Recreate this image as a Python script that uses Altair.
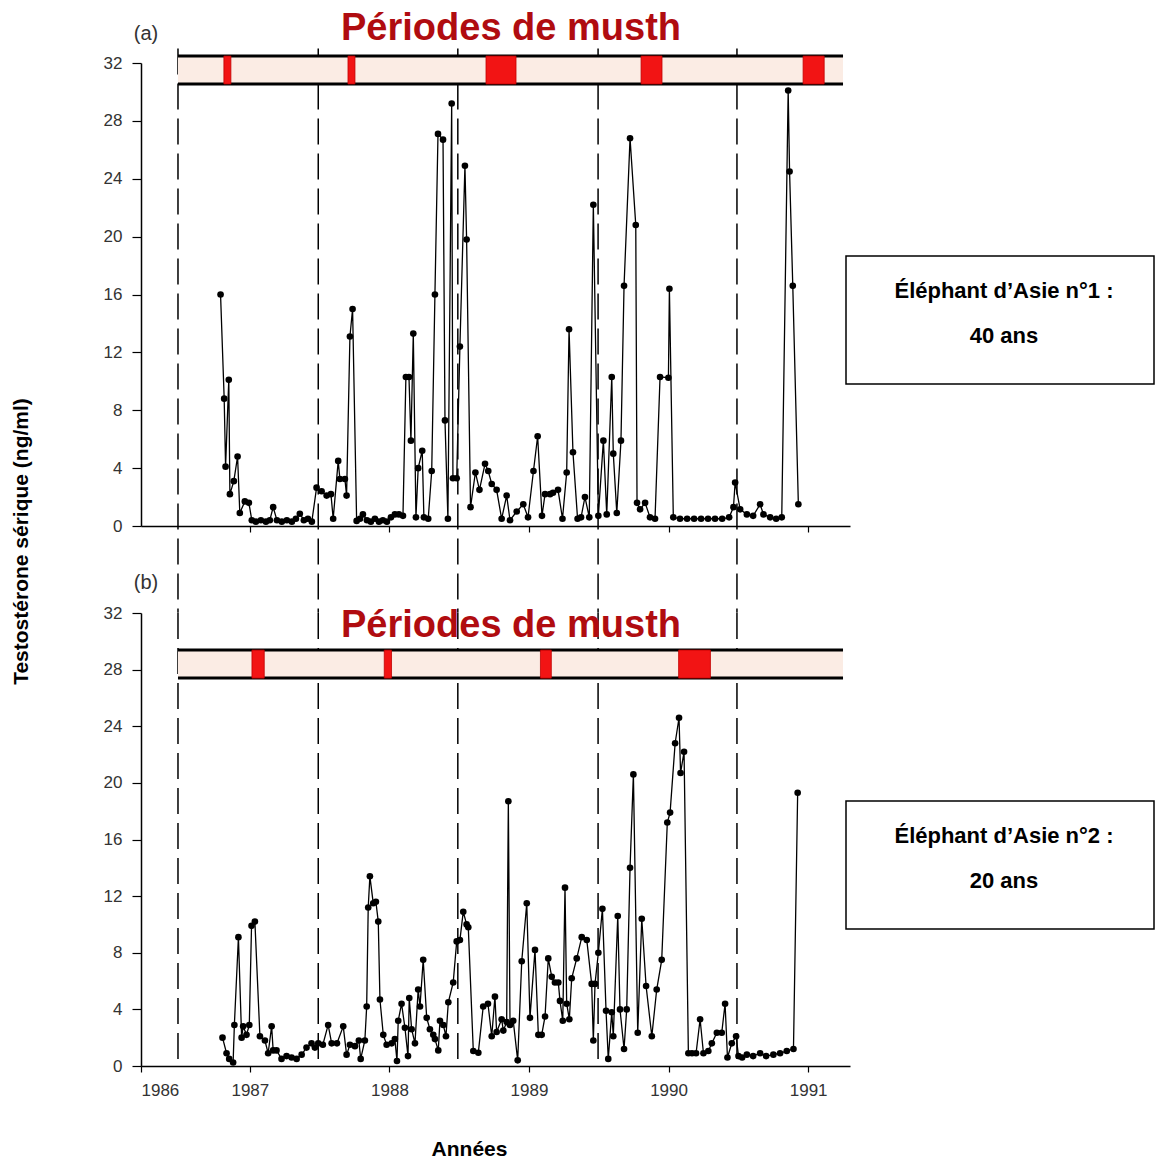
import altair as alt
import pandas as pd

FONT = "Liberation Sans"

# ---------------- data ----------------
years_a = [1986.790, 1986.816, 1986.826, 1986.849, 1986.857, 1986.885, 1986.912, 1986.928, 1986.964, 1986.993,
           1987.014, 1987.043, 1987.079, 1987.115, 1987.143, 1987.167, 1987.194, 1987.229, 1987.265, 1987.301,
           1987.330, 1987.358, 1987.387, 1987.416, 1987.444, 1987.478, 1987.514, 1987.550, 1987.581, 1987.597,
           1987.633, 1987.645, 1987.681, 1987.693, 1987.717, 1987.736, 1987.765, 1987.789, 1987.810, 1987.839,
           1987.867, 1987.896, 1987.925, 1987.953, 1987.982, 1988.011, 1988.039, 1988.068, 1988.097, 1988.118,
           1988.140, 1988.154, 1988.171, 1988.190, 1988.206, 1988.235, 1988.247, 1988.278, 1988.303, 1988.326,
           1988.348, 1988.384, 1988.398, 1988.419, 1988.446, 1988.455, 1988.482, 1988.505, 1988.541, 1988.553,
           1988.581, 1988.616, 1988.645, 1988.685, 1988.708, 1988.733, 1988.768, 1988.804, 1988.840, 1988.864,
           1988.912, 1988.959, 1988.993, 1989.032, 1989.062, 1989.093, 1989.115, 1989.151, 1989.172, 1989.208,
           1989.240, 1989.270, 1989.287, 1989.315, 1989.348, 1989.373, 1989.401, 1989.432, 1989.461, 1989.497,
           1989.533, 1989.557, 1989.593, 1989.604, 1989.629, 1989.659, 1989.681, 1989.724, 1989.765, 1989.774,
           1989.796, 1989.832, 1989.867, 1989.903, 1989.939, 1989.999, 1990.006, 1990.034, 1990.082, 1990.133,
           1990.183, 1990.233, 1990.283, 1990.333, 1990.384, 1990.434, 1990.465, 1990.477, 1990.513, 1990.561,
           1990.606, 1990.656, 1990.680, 1990.728, 1990.771, 1990.811, 1990.857, 1990.867, 1990.890, 1990.930]
values_a = [16.0, 8.8, 4.1, 10.1, 2.2, 3.1, 4.8, 0.9, 1.7, 1.6,
            0.4, 0.3, 0.4, 0.3, 0.4, 1.3, 0.4, 0.3, 0.4, 0.3,
            0.5, 0.85, 0.4, 0.5, 0.3, 2.65, 2.4, 2.1, 2.2, 0.5,
            4.5, 3.25, 3.25, 2.1, 13.1, 15.0, 0.35, 0.5, 0.8, 0.4,
            0.3, 0.5, 0.3, 0.4, 0.3, 0.6, 0.8, 0.8, 0.7, 10.3,
            10.3, 5.9, 13.3, 0.6, 4.0, 5.2, 0.6, 0.5, 3.8, 16.0,
            27.1, 26.7, 7.3, 0.5, 29.2, 3.3, 3.3, 12.4, 24.9, 19.8,
            1.3, 3.7, 2.5, 4.3, 3.8, 2.9, 2.5, 0.5, 2.1, 0.4,
            1.0, 1.5, 0.6, 3.8, 6.2, 0.7, 2.2, 2.2, 2.3, 2.5,
            0.5, 3.7, 13.6, 5.1, 0.5, 0.6, 2.0, 0.6, 22.2, 0.7,
            5.9, 0.8, 10.3, 5.0, 0.9, 5.9, 16.6, 26.8, 20.8, 1.6,
            1.15, 1.6, 0.6, 0.5, 10.3, 10.25, 16.4, 0.6, 0.5, 0.5,
            0.5, 0.5, 0.5, 0.5, 0.5, 0.6, 1.3, 3.0, 1.15, 0.8,
            0.7, 1.5, 0.8, 0.6, 0.5, 0.6, 30.1, 24.5, 16.6, 1.5]

years_b = [1986.804, 1986.833, 1986.852, 1986.880, 1986.889, 1986.918, 1986.941, 1986.952, 1986.976, 1986.996,
           1987.012, 1987.036, 1987.072, 1987.108, 1987.131, 1987.156, 1987.167, 1987.191, 1987.227, 1987.263,
           1987.299, 1987.335, 1987.371, 1987.406, 1987.442, 1987.466, 1987.490, 1987.523, 1987.561, 1987.586,
           1987.624, 1987.669, 1987.693, 1987.717, 1987.753, 1987.781, 1987.794, 1987.824, 1987.837, 1987.848,
           1987.860, 1987.884, 1987.903, 1987.920, 1987.932, 1987.956, 1987.980, 1988.016, 1988.039, 1988.054,
           1988.063, 1988.087, 1988.111, 1988.133, 1988.142, 1988.159, 1988.183, 1988.206, 1988.219, 1988.242,
           1988.267, 1988.290, 1988.314, 1988.326, 1988.350, 1988.362, 1988.386, 1988.405, 1988.422, 1988.457,
           1988.482, 1988.505, 1988.529, 1988.553, 1988.565, 1988.601, 1988.637, 1988.672, 1988.706, 1988.733,
           1988.756, 1988.768, 1988.804, 1988.816, 1988.840, 1988.852, 1988.864, 1988.887, 1988.919, 1988.948,
           1988.984, 1989.007, 1989.043, 1989.067, 1989.091, 1989.115, 1989.138, 1989.163, 1989.186, 1989.210,
           1989.222, 1989.242, 1989.258, 1989.270, 1989.289, 1989.306, 1989.342, 1989.378, 1989.414, 1989.449,
           1989.461, 1989.473, 1989.497, 1989.526, 1989.552, 1989.568, 1989.593, 1989.604, 1989.636, 1989.652,
           1989.681, 1989.700, 1989.724, 1989.748, 1989.779, 1989.808, 1989.839, 1989.880, 1989.915, 1989.951,
           1989.991, 1990.011, 1990.047, 1990.075, 1990.086, 1990.111, 1990.142, 1990.168, 1990.197, 1990.226,
           1990.250, 1990.285, 1990.310, 1990.346, 1990.381, 1990.405, 1990.422, 1990.453, 1990.484, 1990.501,
           1990.527, 1990.561, 1990.606, 1990.656, 1990.699, 1990.751, 1990.799, 1990.847, 1990.895, 1990.925]
values_b = [2.0, 0.9, 0.5, 0.25, 2.9, 9.1, 2.0, 2.8, 2.2, 2.9,
            9.9, 10.2, 2.1, 1.8, 0.9, 2.8, 1.1, 1.1, 0.5, 0.7,
            0.6, 0.5, 0.8, 1.3, 1.6, 1.3, 1.6, 1.5, 2.9, 1.6,
            1.6, 2.8, 0.8, 1.5, 1.4, 1.8, 0.5, 1.8, 4.2, 11.2,
            13.4, 11.5, 11.6, 10.2, 4.7, 2.2, 1.5, 1.6, 1.9, 0.35,
            3.2, 4.4, 2.7, 0.7, 4.8, 2.6, 1.6, 5.4, 4.2, 7.5,
            3.4, 2.6, 2.2, 1.9, 1.1, 3.2, 2.9, 2.1, 4.5, 5.9,
            8.8, 8.9, 10.9, 10.0, 9.8, 1.06, 0.94, 4.2, 4.4, 2.1,
            4.9, 2.4, 3.3, 2.5, 3.1, 18.7, 2.9, 3.2, 0.4, 7.4,
            11.5, 3.4, 8.2, 2.2, 2.2, 3.5, 7.6, 6.3, 5.9, 5.9,
            4.6, 3.2, 12.6, 4.4, 3.3, 6.2, 7.6, 9.1, 8.9, 5.8,
            1.8, 5.8, 8.0, 11.1, 3.9, 0.5, 3.8, 2.1, 10.6, 4.0,
            1.2, 4.0, 14.0, 20.6, 2.35, 10.4, 5.65, 2.1, 5.4, 7.5,
            17.2, 17.9, 22.8, 24.6, 20.7, 22.2, 0.9, 0.9, 0.9, 3.3,
            0.9, 1.06, 1.6, 2.35, 2.35, 4.4, 0.6, 1.6, 2.1, 0.7,
            0.6, 0.8, 0.7, 0.9, 0.7, 0.8, 0.9, 1.06, 1.2, 19.3]

musth_a_start = [1986.814, 1987.703, 1988.692, 1989.803, 1990.964]
musth_a_end = [1986.864, 1987.753, 1988.907, 1989.953, 1991.115]
musth_b_start = [1987.015, 1987.963, 1989.082, 1990.072]
musth_b_end = [1987.103, 1988.015, 1989.160, 1990.300]

year_marks = [1986.485, 1987.49, 1988.49, 1989.495, 1990.49]
y_ticks = [0, 4, 8, 12, 16, 20, 24, 28, 32]
x_tick_years = [1986, 1987, 1988, 1989, 1990, 1991]

panel_labels = ["(a)", "(b)"]
musth_title = "Périodes de musth"
box_lines_a = ["Éléphant d’Asie n°1 :", "40 ans"]
box_lines_b = ["Éléphant d’Asie n°2 :", "20 ans"]
y_title = "Testostérone sérique (ng/ml)"
x_title = "Années"

# ---------------- layout constants ----------------
X_DOMAIN = [1986.22, 1991.3]
BANNER_X = [1986.485, 1991.25]
W = 709
H_A = 463
H_B = 453

xscale = alt.Scale(domain=X_DOMAIN, nice=False, zero=False)
yscale = alt.Scale(domain=[0, 32], nice=False)

common_axis = dict(domainColor="black", domainWidth=1.5, tickColor="black", tickWidth=1.2,
                   grid=False, labelFont=FONT, labelFontSize=17, labelColor="#333")

xaxis_a = alt.Axis(values=x_tick_years[1:], labels=False, title=None, tickSize=6, **common_axis)
xaxis_b = alt.Axis(values=[X_DOMAIN[0]] + x_tick_years[1:], format="d", title=x_title,
                   titleX=328, titleY=83, titleAlign="center", titleBaseline="middle",
                   titleFont=FONT, titleFontSize=21, titleFontWeight="bold", titleColor="black",
                   tickSize=6, labelPadding=10, **common_axis)
yaxis_a = alt.Axis(values=y_ticks, title=y_title, titleX=-120, titleY=478, titleAngle=270,
                   titleAlign="center", titleBaseline="middle", titleFont=FONT, titleFontSize=21,
                   titleFontWeight="bold", titleColor="black", tickSize=9, labelPadding=10,
                   **common_axis)
yaxis_b = alt.Axis(values=y_ticks, title=None, tickSize=9, labelPadding=10, **common_axis)


def text_layer(txt, x, y, size, weight="normal", color="black"):
    return alt.Chart(pd.DataFrame({"t": [txt]})).mark_text(
        font=FONT, fontSize=size, fontWeight=weight, color=color, align="center",
        baseline="middle").encode(text="t:N", x=alt.value(x), y=alt.value(y))


def make_panel(years, values, m_start, m_end, band_lo, band_hi, rule_top, rule_bottom,
               height, xaxis, yaxis, label, label_y, title_y, box_lines, box_y0):
    def X(f):
        return alt.X(f"{f}:Q", scale=xscale, axis=xaxis)

    def Y(f):
        return alt.Y(f"{f}:Q", scale=yscale, axis=yaxis)

    series = pd.DataFrame({"year": years, "value": values})
    marks = pd.DataFrame({"mark": year_marks, "top": [rule_top] * len(year_marks),
                          "bottom": [rule_bottom] * len(year_marks)})
    banner = pd.DataFrame({"start": [BANNER_X[0]], "end": [BANNER_X[1]],
                           "lo": [band_lo], "hi": [band_hi]})
    banner_lines = pd.DataFrame({"start": [BANNER_X[0]] * 2, "end": [BANNER_X[1]] * 2,
                                 "y": [band_lo, band_hi]})
    musth = pd.DataFrame({"start": m_start, "end": m_end,
                          "lo": [band_lo] * len(m_start), "hi": [band_hi] * len(m_start)})

    dashed = alt.Chart(marks).mark_rule(color="black", strokeWidth=1.5, strokeDash=[26, 9]).encode(
        x=X("mark"), y=Y("top"), y2="bottom:Q")
    band = alt.Chart(banner).mark_rect(color="#fbece4").encode(
        x=X("start"), x2="end:Q", y=Y("lo"), y2="hi:Q")
    band_l = alt.Chart(banner_lines).mark_rule(color="black", strokeWidth=3).encode(
        x=X("start"), x2="end:Q", y=Y("y"))
    blocks = alt.Chart(musth).mark_rect(color="#f21414", stroke="#c00000", strokeWidth=0.8).encode(
        x=X("start"), x2="end:Q", y=Y("lo"), y2="hi:Q")
    line = alt.Chart(series).mark_line(color="black", strokeWidth=1.3).encode(
        x=X("year"), y=Y("value"))
    pts = alt.Chart(series).mark_circle(color="black", size=44, opacity=1).encode(
        x=X("year"), y=Y("value"))

    lab = text_layer(label, 5, label_y, 20, color="#333")
    ttl = text_layer(musth_title, 370, title_y, 38, weight="bold", color="#b00c10")
    box = alt.Chart(pd.DataFrame({"t": [0]})).mark_rect(
        fill="white", stroke="black", strokeWidth=1.5).encode(
        x=alt.value(705), x2=alt.value(1013), y=alt.value(box_y0), y2=alt.value(box_y0 + 128))
    t1 = text_layer(box_lines[0], 863, box_y0 + 35, 22, weight="bold")
    t2 = text_layer(box_lines[1], 863, box_y0 + 80, 22, weight="bold")

    return alt.layer(dashed, band, band_l, blocks, line, pts, lab, ttl, box, t1, t2).properties(
        width=W, height=height)


panel_a = make_panel(years_a, values_a, musth_a_start, musth_a_end, 30.55, 32.48, 33.0, -6.0,
                     H_A, xaxis_a, yaxis_a, panel_labels[0], -29, -34, box_lines_a, 193)
panel_b = make_panel(years_b, values_b, musth_b_start, musth_b_end, 27.40, 29.38, 32.0, 0.0,
                     H_B, xaxis_b, yaxis_b, panel_labels[1], -30, 13, box_lines_b, 188)

chart = alt.vconcat(panel_a, panel_b, spacing=87, bounds="flush").properties(
    padding={"left": 10, "top": 10, "right": 0, "bottom": 5}
).configure_view(strokeWidth=0)

chart.save("out.html", embed_options={"renderer": "svg", "actions": False})
